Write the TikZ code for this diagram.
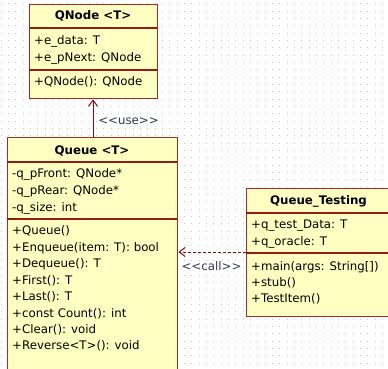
\documentclass[tikz,border=0pt]{standalone}
\usepackage{fontspec}
\setmainfont{DejaVu Sans}
\usetikzlibrary{arrows.meta}
\definecolor{boxfill}{RGB}{255,255,194}
\definecolor{boxline}{RGB}{160,45,40}
\definecolor{sepline}{RGB}{150,25,25}
\definecolor{arrowcol}{RGB}{130,10,10}
\definecolor{stereo}{RGB}{45,55,90}
\definecolor{griddot}{RGB}{200,200,200}
\tikzset{
  umlbox/.style={draw=boxline, fill=boxfill, line width=1.4pt, rectangle, inner sep=0pt, anchor=north west},
  sepl/.style={draw=sepline, line width=1.2pt},
  member/.style={anchor=base west, inner sep=0pt, font=\fontsize{11.8}{13}\selectfont},
  ttl/.style={anchor=base, inner sep=0pt, font=\fontsize{11.8}{13}\selectfont\bfseries},
  stereolabel/.style={anchor=base, inner sep=0pt, text=stereo, font=\fontsize{11.8}{13}\selectfont},
  usearrow/.style={draw=arrowcol, line width=1pt, -{Straight Barb[length=6pt,width=9pt]}},
  callarrow/.style={draw=arrowcol, line width=1pt, dash pattern=on 3pt off 2pt, -{Straight Barb[length=6pt,width=9pt]}}
}
\begin{document}
\begin{tikzpicture}[x=1pt,y=-1pt]
\useasboundingbox (0,0) rectangle (388,369);
\clip (0,0) rectangle (388,369);
\fill[white] (0,0) rectangle (388,369);
% dotted grid
\foreach \i in {0,...,53}{
  \foreach \j in {0,...,50}{
    \fill[griddot] ({1.33+7.333*\i-0.5},{4+7.333*\j-0.5}) rectangle ++(1,1);
  }
}
% QNode
\node[umlbox, minimum width=128pt, minimum height=94pt] (qnode) at (29,4) {};
\draw[sepl] (29,28) -- (157,28);
\draw[sepl] (29,70) -- (157,70);
\node[ttl] (qnodet) at (93,20) {QNode {<}T{>}};
\node[member] (qn1) at (34,45) {+e\_data: T};
\node[member] (qn2) at (34,61.5) {+e\_pNext: QNode};
\node[member] (qn3) at (34,85.5) {+QNode(): QNode};
% Queue
\node[umlbox, minimum width=170pt, minimum height=232pt] (queue) at (7,137) {};
\draw[sepl] (7,162) -- (177,162);
\draw[sepl] (7,219) -- (177,219);
\node[ttl] (queuet) at (92,154.5) {Queue {<}T{>}};
\node[member] (qa1) at (12,177.5) {-q\_pFront: QNode*};
\node[member] (qa2) at (12,194.5) {-q\_pRear: QNode*};
\node[member] (qa3) at (12,211.5) {-q\_size: int};
\node[member] (qm1) at (12,234.5) {+Queue()};
\node[member] (qm2) at (12,251) {+Enqueue(item: T): bool};
\node[member] (qm3) at (12,267.5) {+Dequeue(): T};
\node[member] (qm4) at (12,284) {+First(): T};
\node[member] (qm5) at (12,300.5) {+Last(): T};
\node[member] (qm6) at (12,317) {+const Count(): int};
\node[member] (qm7) at (12,333.5) {+Clear(): void};
\node[member] (qm8) at (12,349.5) {+Reverse{<}T{>}(): void};
% Queue_Testing
\node[umlbox, minimum width=160pt, minimum height=128pt] (qtest) at (246,188) {};
\draw[sepl] (246,213) -- (406,213);
\draw[sepl] (246,253) -- (406,253);
\node[ttl] (qtestt) at (318.5,204.5) {Queue\_Testing};
\node[member] (qt1) at (251,228) {+q\_test\_Data: T};
\node[member] (qt2) at (251,245.5) {+q\_oracle: T};
\node[member] (qt3) at (251,270.5) {+main(args: String[])};
\node[member] (qt4) at (251,286.5) {+stub()};
\node[member] (qt5) at (251,302.5) {+TestItem()};
% connectors
\coordinate (usex) at (93,0);
\coordinate (cally) at (0,252);
\draw[usearrow] (queue.north -| usex) -- (qnode.south -| usex);
\node[stereolabel] (uselbl) at (128.5,124.5) {{<}{<}use{>}{>}};
\draw[callarrow] (qtest.west |- cally) -- (queue.east |- cally);
\node[stereolabel] (calllbl) at (211.5,270.5) {{<}{<}call{>}{>}};
\end{tikzpicture}
\end{document}
